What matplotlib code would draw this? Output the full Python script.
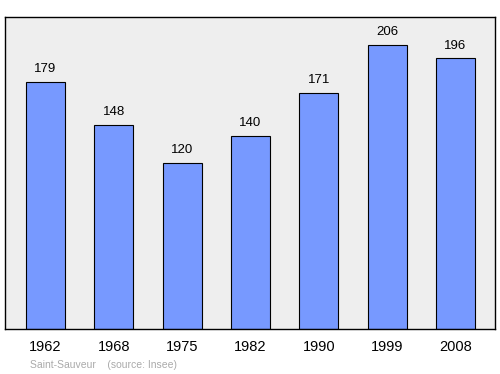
import matplotlib
matplotlib.use('Agg')
import matplotlib.pyplot as plt

plt.rcParams['font.family'] = ['Liberation Sans', 'DejaVu Sans']

# Population data
years = ['1962', '1968', '1975', '1982', '1990', '1999', '2008']
population = [179, 148, 120, 140, 171, 206, 196]

fig = plt.figure(figsize=(5, 3.74), dpi=100)
ax = fig.add_axes([5 / 500, 1 - 329 / 374, 490 / 500, 312 / 374])
ax.set_facecolor('#eeeeee')

pos = list(range(len(years)))
ax.bar(pos, population, width=0.571, color='#7799ff', edgecolor='black', linewidth=0.8)

for x, v in zip(pos, population):
    ax.text(x, v + 5, str(v), ha='center', va='bottom', fontsize=9.5, color='black')

ax.set_xlim(-0.593, 6.58)
ax.set_ylim(0, 226)
ax.set_yticks([])
ax.set_xticks(pos)
ax.set_xticklabels(years, fontsize=10.5)
ax.tick_params(axis='x', length=0, pad=8)
for s in ax.spines.values():
    s.set_linewidth(1.0)

fig.text(30 / 500, 1 - 365 / 374, 'Saint-Sauveur    (source: Insee)',
         fontsize=7.5, color='#aaaaaa', va='center', ha='left')

fig.savefig('out.png', dpi=100)
